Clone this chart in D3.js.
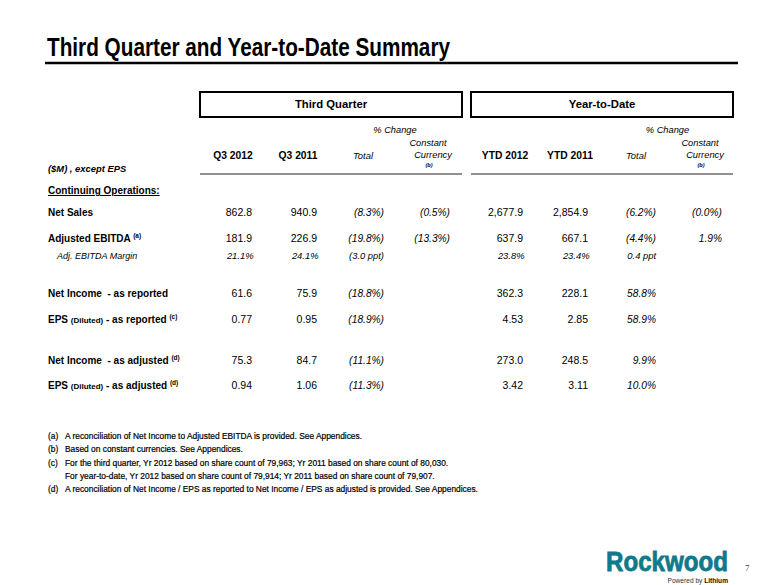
<!DOCTYPE html>
<html>
<head>
<meta charset="utf-8">
<script src="https://cdn.jsdelivr.net/npm/d3@7"></script>
<style>
  html, body { margin: 0; padding: 0; background: #fff; }
  svg text { font-family: "Liberation Sans", Arial, sans-serif; }
</style>
</head>
<body>
<svg id="chart" width="780" height="585"></svg>
<script>
// ---------------- DATA ----------------
const title = "Third Quarter and Year-to-Date Summary";
const groupTitles = ["Third Quarter", "Year-to-Date"];
const columnHeaders = ["Q3 2012", "Q3 2011", "Total", "Constant Currency", "YTD 2012", "YTD 2011", "Total", "Constant Currency"];
const rowKeys = ["netSales", "ebitda", "margin", "niReported", "epsReported", "niAdjusted", "epsAdjusted"];
const rowTypes = ["money", "money", "pct", "money", "eps", "money", "eps"];
// label parts: [text, style]  style: "b" bold, "s" small bold, "sup" superscript, "i" italic
const rowLabels = [
  [["Net Sales", "b"]],
  [["Adjusted EBITDA ", "b"], ["(a)", "sup"]],
  [["Adj. EBITDA Margin", "i"]],
  [["Net Income  - as reported", "b"]],
  [["EPS ", "b"], ["(Diluted)", "s"], [" - as reported ", "b"], ["(c)", "sup"]],
  [["Net Income  - as adjusted ", "b"], ["(d)", "sup"]],
  [["EPS ", "b"], ["(Diluted)", "s"], [" - as adjusted ", "b"], ["(d)", "sup"]]
];
const q3_2012 = [862.8, 181.9, 21.1, 61.6, 0.77, 75.3, 0.94];
const q3_2011 = [940.9, 226.9, 24.1, 75.9, 0.95, 84.7, 1.06];
const q3ChangeTotal = [-8.3, -19.8, -3.0, -18.8, -18.9, -11.1, -11.3];
const q3ChangeCC = [-0.5, -13.3, null, null, null, null, null];
const ytd_2012 = [2677.9, 637.9, 23.8, 362.3, 4.53, 273.0, 3.42];
const ytd_2011 = [2854.9, 667.1, 23.4, 228.1, 2.85, 248.5, 3.11];
const ytdChangeTotal = [-6.2, -4.4, 0.4, 58.8, 58.9, 9.9, 10.0];
const ytdChangeCC = [-0.0, 1.9, null, null, null, null, null];
const footnoteMarks = ["(a)", "(b)", "(c)", "", "(d)"];
const footnotes = [
  "A reconciliation of Net Income to Adjusted EBITDA is provided. See Appendices.",
  "Based on constant currencies. See Appendices.",
  "For the third quarter, Yr 2012 based on share count of 79,963; Yr 2011 based on share count of 80,030.",
  "For year-to-date, Yr 2012 based on share count of 79,914; Yr 2011 based on share count of 79,907.",
  "A reconciliation of Net Income / EPS as reported to Net Income / EPS as adjusted is provided. See Appendices."
];
const pageNumber = "7";

// ---------------- LAYOUT ----------------
const svg = d3.select("#chart");
const colKeys = d3.range(columnHeaders.length);
// right edge of value columns
const xVal = d3.scaleOrdinal().domain(colKeys).range([252, 317, 384, 450, 523, 588, 656, 722]);
// center of header columns
const xHead = d3.scaleOrdinal().domain(colKeys).range([233, 298, 363, 431, 505, 570, 636, 703]);
const yRow = d3.scaleOrdinal().domain(rowKeys).range([216, 242, 259, 297, 323, 364, 389]);
const groupX = d3.scaleOrdinal().domain([0, 1]).range([[200, 462], [471, 733]]);
const yFoot = d3.scaleLinear().domain([0, 4]).range([439, 492]);

const fmtMoney = d3.format(",.1f");
const fmtEps = d3.format(".2f");
const isNeg = v => v < 0 || Object.is(v, -0);
const fmtChange = (v, unit) => {
  if (v == null) return "";
  const s = Math.abs(v).toFixed(1) + (unit === "ppt" ? " ppt" : "%");
  return isNeg(v) ? "(" + s + ")" : s;
};
const fmtLevel = (v, t) => t === "money" ? fmtMoney(v) : t === "eps" ? fmtEps(v) : v.toFixed(1) + "%";

// ---------------- TITLE ----------------
svg.append("text")
  .attr("x", 47).attr("y", 56)
  .style("font-family", "'Liberation Sans Narrow', 'Arial Narrow', 'Liberation Sans', sans-serif")
  .attr("font-size", 25).attr("font-weight", "bold").attr("fill", "#000")
  .attr("textLength", 403).attr("lengthAdjust", "spacingAndGlyphs")
  .text(title);
svg.append("line").attr("x1", 45).attr("x2", 738).attr("y1", 63).attr("y2", 63)
  .attr("stroke", "#000").attr("stroke-width", 2.5);

// ---------------- GROUP BOXES ----------------
groupTitles.forEach((g, i) => {
  const [x0, x1] = groupX(i);
  svg.append("rect").attr("x", x0).attr("y", 92).attr("width", x1 - x0).attr("height", 25)
    .attr("fill", "none").attr("stroke", "#000").attr("stroke-width", 2);
  svg.append("text").attr("x", (x0 + x1) / 2).attr("y", 108).attr("text-anchor", "middle")
    .attr("font-size", 11.3).attr("font-weight", "bold").text(g);
  svg.append("line").attr("x1", x0).attr("x2", x1).attr("y1", 174).attr("y2", 174)
    .attr("stroke", "#222").attr("stroke-width", 1.2);
  svg.append("text").attr("x", (xHead(i * 4 + 2) + xHead(i * 4 + 3)) / 2 - 2).attr("y", 133)
    .attr("text-anchor", "middle").attr("font-size", 9.3).attr("font-style", "italic").text("% Change");
});

// ---------------- COLUMN HEADERS ----------------
colKeys.forEach(i => {
  const h = columnHeaders[i];
  const x = xHead(i);
  if (h === "Constant Currency") {
    const t = svg.append("text").attr("text-anchor", "middle").attr("font-size", 9.3).attr("font-style", "italic");
    t.append("tspan").attr("x", x - 3).attr("y", 146).text("Constant");
    t.append("tspan").attr("x", x + 2).attr("y", 158).text("Currency");
    svg.append("text").attr("x", x - 2).attr("y", 167).attr("text-anchor", "middle")
      .attr("font-size", 5.5).attr("font-style", "italic").attr("font-weight", "bold").text("(b)");
  } else if (h === "Total") {
    svg.append("text").attr("x", x).attr("y", 159).attr("text-anchor", "middle")
      .attr("font-size", 9.4).attr("font-style", "italic").text(h);
  } else {
    svg.append("text").attr("x", x).attr("y", 159).attr("text-anchor", "middle")
      .attr("font-size", 10.3).attr("font-weight", "bold").text(h);
  }
});

svg.append("text").attr("x", 48).attr("y", 172).attr("font-size", 9.4)
  .attr("font-weight", "bold").attr("font-style", "italic").text("($M) , except EPS");
svg.append("text").attr("x", 48).attr("y", 194).attr("font-size", 10)
  .attr("font-weight", "bold").attr("text-decoration", "underline").text("Continuing Operations:");

// ---------------- ROWS ----------------
rowKeys.forEach((k, r) => {
  const y = yRow(k);
  const isMargin = rowTypes[r] === "pct";
  const lab = svg.append("text").attr("x", isMargin ? 57 : 48).attr("y", y).attr("xml:space", "preserve");
  rowLabels[r].forEach(([txt, st]) => {
    const ts = lab.append("tspan").text(txt);
    if (st === "b") ts.attr("font-size", 10).attr("font-weight", "bold");
    if (st === "s") ts.attr("font-size", 8).attr("font-weight", "bold");
    if (st === "i") ts.attr("font-size", 9).attr("font-style", "italic");
    if (st === "sup") ts.attr("font-size", 6.5).attr("font-weight", "bold").attr("dy", -4);
  });

  const cells = [
    [q3_2012[r], "lvl"], [q3_2011[r], "lvl"], [q3ChangeTotal[r], "chg"], [q3ChangeCC[r], "chg"],
    [ytd_2012[r], "lvl"], [ytd_2011[r], "lvl"], [ytdChangeTotal[r], "chg"], [ytdChangeCC[r], "chg"]
  ];
  svg.append("g").selectAll("text").data(cells).join("text")
    .attr("x", (d, i) => xVal(i) + (isMargin && d[1] === "lvl" ? 1.5 : 0))
    .attr("y", y)
    .attr("text-anchor", "end")
    .attr("font-size", d => isMargin ? 9.4 : (d[1] === "lvl" ? 10.5 : 10.2))
    .attr("font-style", d => (isMargin || d[1] === "chg") ? "italic" : "normal")
    .text(d => d[0] == null ? "" : d[1] === "lvl" ? fmtLevel(d[0], rowTypes[r]) : fmtChange(d[0], isMargin ? "ppt" : "%"));
});

// ---------------- FOOTNOTES ----------------
footnotes.forEach((f, i) => {
  svg.append("text").attr("x", 48).attr("y", yFoot(i)).attr("font-size", 8.4)
    .attr("stroke", "#000").attr("stroke-width", 0.2).text(footnoteMarks[i]);
  svg.append("text").attr("x", 65).attr("y", yFoot(i)).attr("font-size", 8.4)
    .attr("stroke", "#000").attr("stroke-width", 0.2).text(f);
});

// ---------------- LOGO & PAGE ----------------
svg.append("text")
  .attr("transform", "translate(606,571) scale(1,1.15)")
  .attr("font-size", 24).attr("font-weight", "bold").attr("fill", "#0e7a8a")
  .attr("stroke", "#0e7a8a").attr("stroke-width", 0.7)
  .attr("textLength", 122).attr("lengthAdjust", "spacingAndGlyphs")
  .text("Rockwood");
const pw = svg.append("text").attr("x", 728).attr("y", 583).attr("text-anchor", "end").attr("font-size", 6.6);
pw.append("tspan").attr("fill", "#333").text("Powered by ");
pw.append("tspan").attr("font-weight", "bold").attr("fill", "#111").text("Lithium");
svg.append("text").attr("x", 745).attr("y", 571)
  .style("font-family", "'Liberation Serif', serif").attr("font-size", 9).attr("fill", "#444")
  .text(pageNumber);
</script>
</body>
</html>
